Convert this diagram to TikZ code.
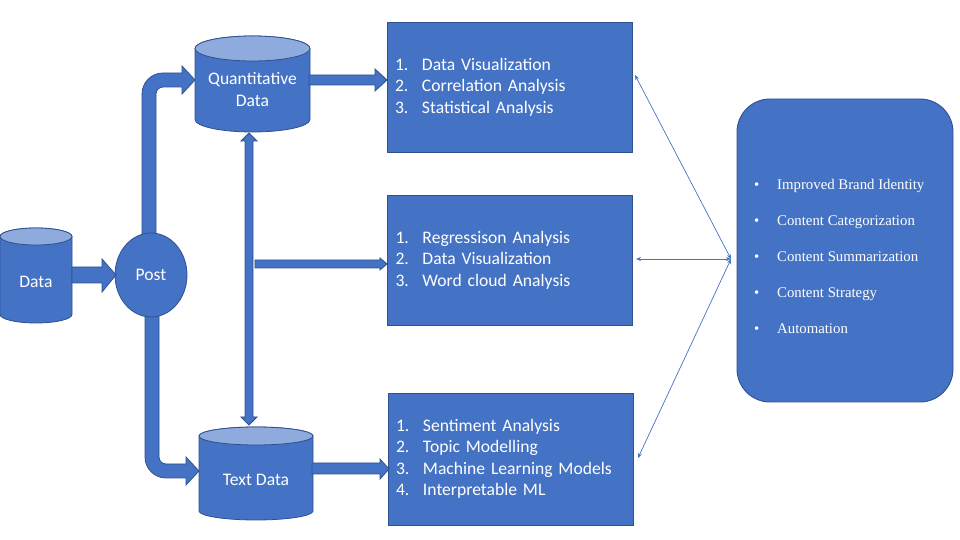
\documentclass[tikz,border=0pt]{standalone}
\usepackage{fontspec}
\setmainfont{Carlito}
\newfontfamily\rserif{Liberation Serif}
\usetikzlibrary{shapes.geometric,arrows.meta}
\definecolor{fillblue}{HTML}{4472C4}
\definecolor{edgeblue}{HTML}{2F528F}
\definecolor{lightblue}{HTML}{8FAADC}
% cylinder: cx, rx, Ytop, Ybot, ry
\newcommand\mycyl[5]{%
  \fill[fillblue,draw=edgeblue,line width=0.8pt] (#1-#2,#3-#5) -- (#1-#2,#4+#5)
    arc[start angle=180,end angle=360,x radius=#2,y radius=#5] -- (#1+#2,#3-#5)
    arc[start angle=0,end angle=180,x radius=#2,y radius=#5] -- cycle;
  \draw[fill=lightblue,draw=edgeblue,line width=0.8pt] (#1,#3-#5) ellipse[x radius=#2,y radius=#5];
}
\newcommand\litem[2]{\makebox[27pt][l]{#1}#2}
\begin{document}
\begin{tikzpicture}[x=1pt,y=1pt,
  blockarrow/.style={fill=fillblue,draw=edgeblue,line width=0.8pt,line join=miter},
  lbl/.style={text=white,font=\fontsize{17.6}{22}\selectfont,align=center,inner sep=0pt},
  listbox/.style={rectangle,fill=fillblue,draw=edgeblue,line width=0.9pt,text=white,
    font=\fontsize{17.6}{21.5}\selectfont,align=left,inner xsep=8pt,inner ysep=0pt,
    text width=229pt,minimum height=130pt},
  thinarrow/.style={draw=fillblue,line width=0.7pt,{Stealth[length=5pt,width=4pt]}-{Stealth[length=5pt,width=4pt]}}]
\useasboundingbox (0,0) rectangle (960,540);

% curved arrows from Post
\draw[blockarrow] (142,300) -- (142,446) arc[start angle=180,end angle=90,radius=21]
  -- (182,467) -- (182,474) -- (195,460) -- (182,446) -- (182,453) -- (163,453)
  arc[start angle=90,end angle=180,radius=7] -- (156,300) -- cycle;
\draw[blockarrow] (145,230) -- (145,83) arc[start angle=180,end angle=270,radius=21]
  -- (186,62) -- (186,55) -- (199,69) -- (186,83) -- (186,76) -- (166,76)
  arc[start angle=270,end angle=180,radius=7] -- (159,230) -- cycle;

% Post
\node[ellipse,fill=fillblue,draw=edgeblue,line width=0.8pt,minimum width=72pt,minimum height=84pt,inner sep=0pt,
  text=white,font=\fontsize{17.6}{22}\selectfont] (post) at (151,265) {Post};

% cylinders
\mycyl{36}{36}{312}{217}{8.5}
\node[lbl] (data) at (36,258) {Data};
\mycyl{252.5}{57.5}{504}{408}{12.5}
\node[lbl] (quant) at (252.5,451) {Quantitative\\Data};
\mycyl{256}{57}{113}{20}{9}
\node[lbl] (text) at (256,60) {Text Data};

% Data -> Post
\draw[blockarrow] (72,273) -- (102,273) -- (102,281) -- (116,265) -- (102,248) -- (102,257) -- (72,257) -- cycle;

% boxes
\node[listbox] (b1) at (509.5,453) {\litem{1.}{Data Visualization}\\\litem{2.}{Correlation Analysis}\\\litem{3.}{Statistical Analysis}};
\node[listbox] (b2) at (510,280) {\litem{1.}{Regressison Analysis}\\\litem{2.}{Data Visualization}\\\litem{3.}{Word cloud Analysis}};
\node[listbox,minimum height=132pt] (b3) at (510.5,81) {\litem{1.}{Sentiment Analysis}\\\litem{2.}{Topic Modelling}\\\litem{3.}{Machine Learning Models}\\\litem{4.}{Interpretable ML}};

% Quant -> box1
\draw[blockarrow] (309,465) -- (375,465) -- (375,471) -- (387,460) -- (375,449) -- (375,455) -- (309,455) -- cycle;
% Text -> box3
\draw[blockarrow] (312,77) -- (380,77) -- (380,81) -- (389,71) -- (380,61) -- (380,66) -- (312,66) -- cycle;
% vertical double arrow
\draw[blockarrow] (249,407) -- (257,399) -- (253,399) -- (253,123) -- (257,123) -- (249,115)
  -- (241,123) -- (245,123) -- (245,399) -- (241,399) -- cycle;
% horizontal arrow to box2
\draw[blockarrow] (255,280) -- (380,280) -- (380,282) -- (387,276) -- (380,270) -- (380,272) -- (255,272) -- cycle;

% results box
\node[rectangle,rounded corners=33pt,fill=fillblue,draw=edgeblue,line width=0.9pt,
  minimum width=216pt,minimum height=303pt] (res) at (845,289.5) {};
\node[anchor=west,text=white,font=\rserif\fontsize{14.8}{36}\selectfont,align=left,inner sep=0pt] (restext) at (754,284)
  {\makebox[23pt][l]{•}Improved Brand Identity\\\makebox[23pt][l]{•}Content Categorization\\\makebox[23pt][l]{•}Content Summarization\\\makebox[23pt][l]{•}Content Strategy\\\makebox[23pt][l]{•}Automation};

% thin arrows
\coordinate (hub) at (731,281);
\coordinate (e1) at (635,465);
\coordinate (e2) at (636,281);
\coordinate (e3) at (638,82);
\draw[thinarrow] (e1) -- (hub);
\draw[thinarrow] (e2) -- (hub);
\draw[thinarrow] (e3) -- (hub);
\end{tikzpicture}
\end{document}
